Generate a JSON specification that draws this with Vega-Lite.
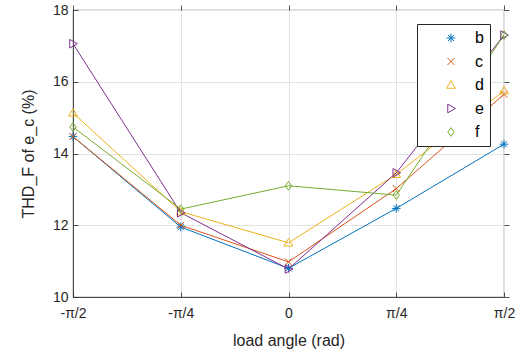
{
  "$schema": "https://vega.github.io/schema/vega-lite/v6.json",
  "width": 431,
  "height": 287,
  "autosize": {"type": "none"},
  "padding": {"left": 73, "top": 10, "right": 22, "bottom": 61},
  "background": "white",
  "config": {
    "font": "Liberation Sans",
    "view": {"stroke": "#262626", "strokeWidth": 0.8},
    "axis": {
      "domainColor": "#262626",
      "tickColor": "#262626",
      "labelColor": "#262626",
      "titleColor": "#262626",
      "labelFont": "Liberation Sans",
      "titleFont": "Liberation Sans",
      "labelFontSize": 14,
      "titleFontSize": 16,
      "titleFontWeight": "normal",
      "gridColor": "#e3e3e3",
      "gridWidth": 1,
      "tickSize": -5,
      "domainWidth": 0.8,
      "tickWidth": 0.8
    }
  },
  "data": {
    "values": [
      {"angle": -1.5708, "series": "b", "thd": 14.47},
      {"angle": -0.7854, "series": "b", "thd": 11.95},
      {"angle": 0, "series": "b", "thd": 10.8},
      {"angle": 0.7854, "series": "b", "thd": 12.47},
      {"angle": 1.5708, "series": "b", "thd": 14.26},
      {"angle": -1.5708, "series": "c", "thd": 14.47},
      {"angle": -0.7854, "series": "c", "thd": 12.0},
      {"angle": 0, "series": "c", "thd": 10.98},
      {"angle": 0.7854, "series": "c", "thd": 13.02},
      {"angle": 1.5708, "series": "c", "thd": 15.65},
      {"angle": -1.5708, "series": "d", "thd": 15.13},
      {"angle": -0.7854, "series": "d", "thd": 12.38},
      {"angle": 0, "series": "d", "thd": 11.51},
      {"angle": 0.7854, "series": "d", "thd": 13.42},
      {"angle": 1.5708, "series": "d", "thd": 15.75},
      {"angle": -1.5708, "series": "e", "thd": 17.06},
      {"angle": -0.7854, "series": "e", "thd": 12.35},
      {"angle": 0, "series": "e", "thd": 10.78},
      {"angle": 0.7854, "series": "e", "thd": 13.46},
      {"angle": 1.5708, "series": "e", "thd": 17.3},
      {"angle": -1.5708, "series": "f", "thd": 14.74},
      {"angle": -0.7854, "series": "f", "thd": 12.45},
      {"angle": 0, "series": "f", "thd": 13.1},
      {"angle": 0.7854, "series": "f", "thd": 12.84},
      {"angle": 1.5708, "series": "f", "thd": 17.3}
    ]
  },
  "layer": [
    {
      "mark": {"type": "line", "strokeWidth": 1, "clip": true},
      "encoding": {
        "x": {
          "field": "angle", "type": "quantitative",
          "scale": {"domain": [-1.5708, 1.5708], "nice": false, "zero": false},
          "axis": {
            "orient": "bottom",
            "title": "load angle (rad)",
            "values": [-1.5708, -0.7854, 0, 0.7854, 1.5708],
            "labelExpr": "datum.value < -1 ? '-π/2' : datum.value < -0.5 ? '-π/4' : datum.value > 1 ? 'π/2' : datum.value > 0.5 ? 'π/4' : '0'",
            "labelPadding": 14,
            "titlePadding": 12,
            "labelFlush": false
          }
        },
        "y": {
          "field": "thd", "type": "quantitative",
          "scale": {"domain": [10, 18], "nice": false, "zero": false},
          "axis": {
            "orient": "left",
            "title": "THD_F of e_c (%)",
            "values": [10, 12, 14, 16, 18],
            "labelPadding": 10,
            "titlePadding": 16
          }
        },
        "color": {
          "field": "series", "type": "nominal",
          "scale": {"domain": ["b", "c", "d", "e", "f"], "range": ["#0072BD", "#D95319", "#EDB120", "#7E2F8E", "#77AC30"]},
          "legend": {
            "title": null,
            "orient": "none",
            "legendX": 344,
            "legendY": 14,
            "fillColor": "white",
            "strokeColor": "#262626",
            "padding": 6,
            "symbolOffset": 20,
            "labelOffset": 16,
            "labelFontSize": 16,
            "labelColor": "#000000",
            "labelFont": "Liberation Sans",
            "symbolSize": 75,
            "symbolStrokeWidth": 1,
            "rowPadding": 7.5,
            "symbolFillColor": "transparent"
          }
        },
        "detail": {"field": "series"}
      }
    },
    {
      "mark": {"type": "point", "filled": false, "strokeWidth": 1, "size": 75, "opacity": 1},
      "encoding": {
        "x": {
          "field": "angle", "type": "quantitative",
          "scale": {"domain": [-1.5708, 1.5708], "nice": false, "zero": false},
          "axis": {"orient": "top", "title": null, "labels": false, "grid": false, "domain": false, "tickSize": 5, "values": [-1.5708, -0.7854, 0, 0.7854, 1.5708]}
        },
        "y": {
          "field": "thd", "type": "quantitative",
          "scale": {"domain": [10, 18], "nice": false, "zero": false},
          "axis": {"orient": "right", "title": null, "labels": false, "grid": false, "domain": false, "tickSize": 5, "values": [10, 12, 14, 16, 18]}
        },
        "color": {
          "field": "series", "type": "nominal",
          "scale": {"domain": ["b", "c", "d", "e", "f"], "range": ["#0072BD", "#D95319", "#EDB120", "#7E2F8E", "#77AC30"]},
          "legend": {
            "title": null,
            "orient": "none",
            "legendX": 344,
            "legendY": 14,
            "fillColor": "white",
            "strokeColor": "#262626",
            "padding": 6,
            "symbolOffset": 20,
            "labelOffset": 16,
            "labelFontSize": 16,
            "labelColor": "#000000",
            "labelFont": "Liberation Sans",
            "symbolSize": 75,
            "symbolStrokeWidth": 1,
            "rowPadding": 7.5,
            "symbolFillColor": "transparent"
          }
        },
        "shape": {
          "field": "series", "type": "nominal",
          "scale": {
            "domain": ["b", "c", "d", "e", "f"],
            "range": [
              "M-1,0L1,0M0,-1L0,1M-0.7,-0.7L0.7,0.7M-0.7,0.7L0.7,-0.7",
              "M-0.8,-0.8L0.8,0.8M-0.8,0.8L0.8,-0.8",
              "M0,-1L1,0.75L-1,0.75Z",
              "M-0.75,-1L1,0L-0.75,1Z",
              "M0,-1L0.75,0L0,1L-0.75,0Z"
            ]
          },
          "legend": null
        }
      }
    }
  ],
  "resolve": {"axis": {"x": "independent", "y": "independent"}}
}
